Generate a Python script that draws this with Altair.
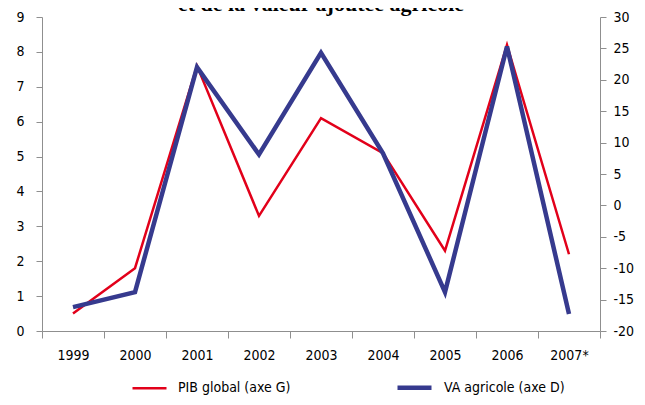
import altair as alt
import pandas as pd

years = ["1999", "2000", "2001", "2002", "2003", "2004", "2005", "2006", "2007*"]
pib_global = [0.5, 1.8, 7.6, 3.3, 6.1, 5.1, 2.3, 8.2, 2.2]
va_agricole = [-16.2, -13.8, 22.0, 8.1, 24.3, 8.3, -13.8, 25.3, -17.3]
series_names = ["PIB global (axe G)", "VA agricole (axe D)"]
left_ticks = list(range(0, 10))
right_ticks = list(range(-20, 31, 5))
title_text = "et de la valeur ajoutée agricole"

df = pd.DataFrame({
    "year": years * 2,
    "series": [series_names[0]] * len(years) + [series_names[1]] * len(years),
    "value": pib_global + va_agricole,
})

FONT = "Liberation Sans Narrow, DejaVu Sans Condensed, Arial Narrow, sans-serif"
RED = "#E2001A"
BLUE = "#363A8E"
GRAY = "#8f8f8f"

x = alt.X(
    "year:N", sort=years, title=None, bandPosition=0.5,
    scale=alt.Scale(type="band", paddingInner=0, paddingOuter=0),
    axis=alt.Axis(tickBand="extent", labelAngle=0, domainColor=GRAY, tickColor=GRAY,
                  tickSize=7, labelPadding=10, labelFont=FONT, labelFontSize=14,
                  labelColor="black"),
)

legend = alt.Legend(title=None, orient="none", legendX=89, legendY=351,
                    direction="horizontal", symbolType="stroke", symbolSize=1156,
                    labelFont=FONT, labelFontSize=14, labelColor="black",
                    columnPadding=97, labelOffset=10)

color = alt.Color("series:N", scale=alt.Scale(domain=series_names, range=[RED, BLUE]),
                  legend=legend)
sw = alt.StrokeWidth("series:N", scale=alt.Scale(domain=series_names, range=[2.5, 4.5]),
                     legend=legend)

base = alt.Chart(df)

red = base.transform_filter(alt.datum.series == series_names[0]).mark_line().encode(
    x=x,
    y=alt.Y("value:Q", title=None,
            scale=alt.Scale(domain=[0, 9], nice=False, zero=False),
            axis=alt.Axis(orient="left", values=left_ticks, domainColor=GRAY, tickColor=GRAY,
                          tickSize=6, labelPadding=12, labelFont=FONT, labelFontSize=14,
                          labelColor="black")),
    color=color,
    strokeWidth=sw,
)

blue = base.transform_filter(alt.datum.series == series_names[1]).mark_line().encode(
    x=x,
    y=alt.Y("value:Q", title=None,
            scale=alt.Scale(domain=[-20, 30], nice=False, zero=False),
            axis=alt.Axis(orient="right", values=right_ticks, domainColor=GRAY, tickColor=GRAY,
                          tickSize=6, labelPadding=7, labelFont=FONT, labelFontSize=14,
                          labelColor="black", labelExpr="'' + datum.value")),
    color=color,
    strokeWidth=sw,
)

title = alt.Chart(pd.DataFrame({"t": [title_text]})).mark_text(
    font="Liberation Serif", fontSize=22, fontWeight="bold",
    baseline="alphabetic", align="center", color="black",
).encode(text="t:N", x=alt.value(279), y=alt.value(-6))

chart = alt.layer(red, blue, title).resolve_scale(y="independent").properties(
    width=558, height=314,
    autosize=alt.AutoSizeParams(type="none"),
    padding={"left": 34, "top": 9, "right": 37, "bottom": 66},
).configure_view(stroke=None).configure_axis(grid=False)

chart.save("out.html", embed_options={"renderer": "svg", "actions": False})
